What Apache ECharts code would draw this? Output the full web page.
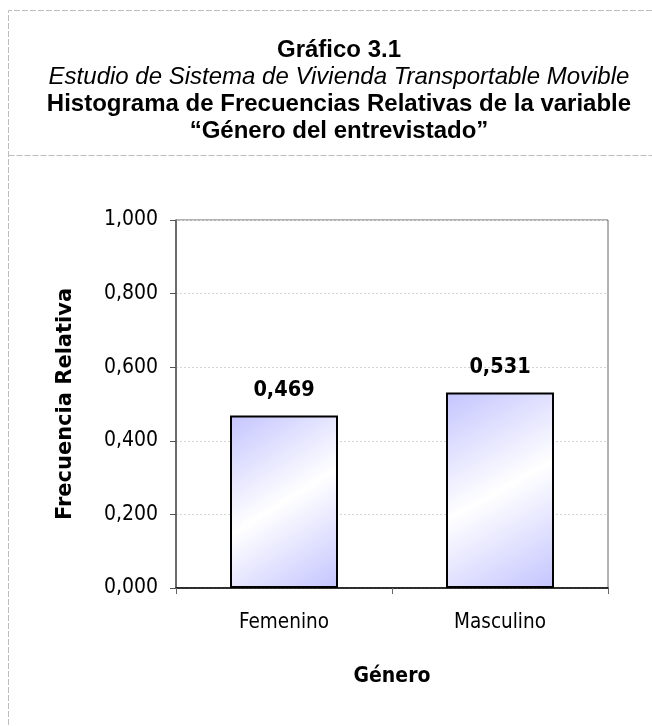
<!DOCTYPE html>
<html>
<head>
<meta charset="utf-8">
<script src="https://cdn.jsdelivr.net/npm/echarts@6/dist/echarts.min.js"></script>
<style>
  html, body { margin: 0; padding: 0; background: #fff; }
  #chart { width: 652px; height: 726px; }
</style>
</head>
<body>
<div id="chart"></div>
<script>
const categories = ['Femenino', 'Masculino']
const frecuencias = [0.469, 0.531]
const yTicks = [0, 0.2, 0.4, 0.6, 0.8, 1.0]

const chart = echarts.init(document.getElementById('chart'), null, { renderer: 'canvas' })

const barFill = new echarts.graphic.LinearGradient(0, 0, 1, 1, [
  { offset: 0, color: '#c4c4ff' },
  { offset: 0.5, color: '#ffffff' },
  { offset: 1, color: '#c4c4ff' },
])

const tickFont = "'DejaVu Sans Condensed', 'DejaVu Sans', sans-serif"
const titleFont = "'Liberation Sans', Arial, sans-serif"
const fmt = (v) => v.toFixed(3).replace('.', ',')

function titleLine(text, top, style) {
  return {
    text, left: 334, top, textAlign: 'center',
    textStyle: Object.assign({ fontFamily: titleFont, fontSize: 24, fontWeight: 'bold', color: '#000' }, style),
  }
}

chart.setOption({
  backgroundColor: '#fff',
  animation: false,
  title: [
    titleLine('Gráfico 3.1', 33, {}),
    titleLine('Estudio de Sistema de Vivienda Transportable Movible', 60, { fontStyle: 'italic', fontWeight: 'normal' }),
    titleLine('Histograma de Frecuencias Relativas de la variable', 87, {}),
    titleLine('\u201cGénero del entrevistado\u201d', 114, {}),
  ],
  graphic: [
    { type: 'polyline', shape: { points: [[652, 10.5], [8.5, 10.5], [8.5, 726]] },
      style: { stroke: '#bdbdbd', lineWidth: 1, lineDash: [6, 2], fill: null }, silent: true },
    { type: 'line', shape: { x1: 8.5, y1: 155.5, x2: 652, y2: 155.5 },
      style: { stroke: '#bdbdbd', lineWidth: 1, lineDash: [6, 2] }, silent: true },
  ],
  grid: {
    left: 176, right: 44, top: 220, bottom: 138,
    show: true, borderColor: '#666', borderWidth: 1, backgroundColor: 'transparent',
  },
  xAxis: {
    type: 'category',
    data: categories,
    name: 'Género',
    nameLocation: 'middle',
    nameGap: 78,
    nameTextStyle: { fontFamily: tickFont, fontSize: 21, fontWeight: 'bold', color: '#000' },
    axisLine: { lineStyle: { color: '#000', width: 1.5 } },
    axisTick: { show: true, alignWithLabel: false, length: 6, lineStyle: { color: '#666' } },
    axisLabel: { fontFamily: tickFont, fontSize: 20.5, color: '#000', margin: 24 },
  },
  yAxis: {
    type: 'value',
    min: 0,
    max: 1,
    interval: 0.2,
    name: 'Frecuencia Relativa',
    nameLocation: 'middle',
    nameRotate: 90,
    nameGap: 100,
    nameTextStyle: { fontFamily: "'DejaVu Sans', sans-serif", fontSize: 21, fontWeight: 'bold', color: '#000' },
    axisLine: { show: true, lineStyle: { color: '#555', width: 1.5 } },
    axisTick: { show: true, inside: false, length: 6, lineStyle: { color: '#555' } },
    axisLabel: {
      fontFamily: tickFont, fontSize: 21, color: '#000', margin: 18,
      formatter: (v) => {
        const t = yTicks.find((y) => Math.abs(y - v) < 1e-9)
        return fmt(t !== undefined ? t : v)
      },
    },
    splitLine: { show: true, lineStyle: { color: '#d4d4d4', type: [2, 2], width: 1 } },
  },
  series: [
    {
      type: 'bar',
      data: frecuencias,
      barWidth: '50%',
      itemStyle: { color: barFill, borderColor: '#000', borderWidth: 2 },
      label: {
        show: true,
        position: 'top',
        distance: 14,
        fontFamily: tickFont,
        fontSize: 21.5,
        fontWeight: 'bold',
        color: '#000',
        formatter: (p) => fmt(p.value),
      },
    },
  ],
})
</script>
</body>
</html>
